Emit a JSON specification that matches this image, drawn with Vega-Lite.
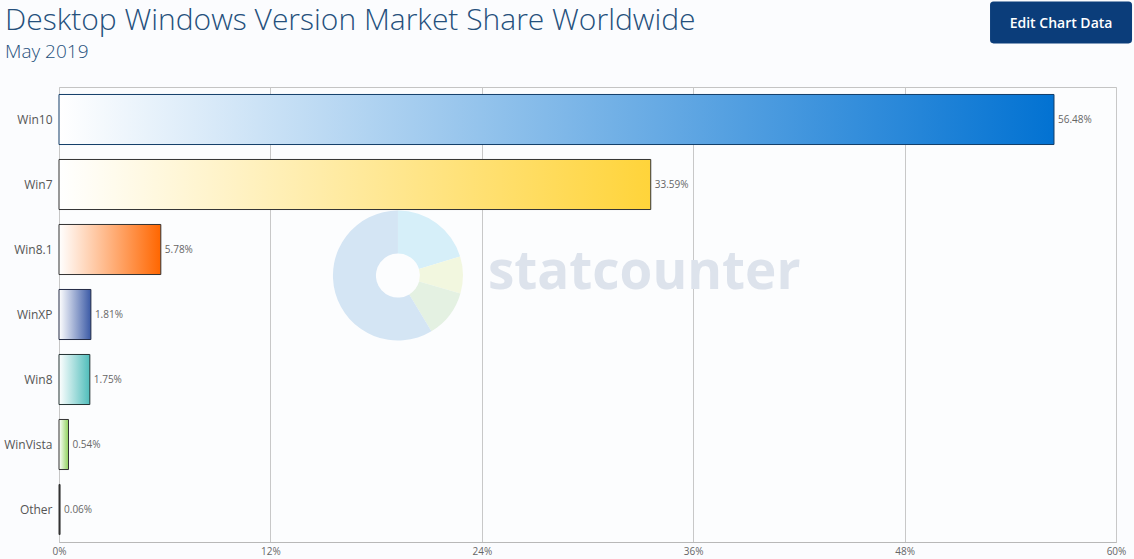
{
  "$schema": "https://vega.github.io/schema/vega-lite/v6.json",
  "autosize": "none",
  "width": 1057,
  "height": 455,
  "padding": {"left": 59, "top": 87, "right": 18, "bottom": 17},
  "background": "#fbfcfe",
  "title": {
    "text": "Desktop Windows Version Market Share Worldwide",
    "subtitle": "May 2019",
    "anchor": "start",
    "frame": "group",
    "dx": -54,
    "offset": -61,
    "font": "Open Sans",
    "fontSize": 30,
    "fontWeight": 300,
    "color": "#25507c",
    "subtitleFont": "Open Sans",
    "subtitleFontSize": 19,
    "subtitleFontWeight": 300,
    "subtitleColor": "#25507c",
    "subtitlePadding": 7
  },
  "config": {
    "view": {"stroke": "#c4c4c4", "fill": "#fcfdfe"},
    "font": "Open Sans"
  },
  "datasets": {
    "shares": [
      {"os": "Win10", "share": 0.5648},
      {"os": "Win7", "share": 0.3359},
      {"os": "Win8.1", "share": 0.0578},
      {"os": "WinXP", "share": 0.0181},
      {"os": "Win8", "share": 0.0175},
      {"os": "WinVista", "share": 0.0054},
      {"os": "Other", "share": 0.0006}
    ],
    "logo": [
      {"k": 1, "slice": "cyan", "deg": 73},
      {"k": 2, "slice": "yellow", "deg": 33},
      {"k": 3, "slice": "green", "deg": 43},
      {"k": 4, "slice": "blue", "deg": 211}
    ],
    "brand": [{"word": "statcounter"}],
    "button": [{"label": "Edit Chart Data"}]
  },
  "data": {"name": "shares"},
  "layer": [
    {
      "data": {"name": "brand"},
      "mark": {"type": "text", "align": "left", "baseline": "middle", "fontSize": 53, "fontWeight": "bold", "font": "Open Sans", "color": "#dde3ec"},
      "encoding": {
        "x": {"datum": 0.2435, "type": "quantitative"},
        "y": {"datum": "Win8.1", "type": "nominal", "bandPosition": 0.96},
        "text": {"field": "word", "type": "nominal"}
      }
    },
    {
      "data": {"name": "logo"},
      "mark": {"type": "arc", "radius": 65, "radius2": 22},
      "encoding": {
        "x": {"datum": 0.1924, "type": "quantitative"},
        "y": {"datum": "Win8.1", "type": "nominal", "bandPosition": 1.02},
        "theta": {"field": "deg", "type": "quantitative", "stack": true},
        "order": {"field": "k", "type": "quantitative"},
        "color": {"field": "slice", "type": "nominal", "legend": null, "scale": {"domain": ["cyan", "yellow", "green", "blue"], "range": ["#d6eff9", "#f2f7df", "#e4f1e2", "#d4e5f4"]}}
      }
    },
    {
      "data": {"name": "button"},
      "mark": {"type": "point", "filled": true, "opacity": 1, "color": "#0b3d7a", "size": 20164, "shape": "M-0.95,-0.296 L0.95,-0.296 Q1,-0.296 1,-0.246 L1,0.246 Q1,0.296 0.95,0.296 L-0.95,0.296 Q-1,0.296 -1,0.246 L-1,-0.246 Q-1,-0.296 -0.95,-0.296 Z"},
      "encoding": {
        "x": {"datum": 0.5688, "type": "quantitative"},
        "y": {"datum": "Win10", "type": "nominal", "bandPosition": -1.44}
      }
    },
    {
      "data": {"name": "button"},
      "mark": {"type": "text", "align": "center", "baseline": "middle", "dy": 2, "fontSize": 14, "fontWeight": 600, "font": "Open Sans", "color": "#ffffff"},
      "encoding": {
        "x": {"datum": 0.5688, "type": "quantitative"},
        "y": {"datum": "Win10", "type": "nominal", "bandPosition": -1.44},
        "text": {"field": "label", "type": "nominal"}
      }
    },
    {
      "encoding": {
        "y": {
          "field": "os",
          "type": "nominal",
          "sort": null,
          "scale": {"domain": ["Win10", "Win7", "Win8.1", "WinXP", "Win8", "WinVista", "Other"], "paddingInner": 0.23, "paddingOuter": 0.115},
          "axis": {"title": null, "ticks": false, "domain": false, "labelFontSize": 12, "labelColor": "#555555", "labelPadding": 7, "labelFont": "Open Sans"}
        },
        "x": {
          "field": "share",
          "type": "quantitative",
          "scale": {"domain": [0, 0.6], "nice": false},
          "axis": {"title": null, "values": [0, 0.12, 0.24, 0.36, 0.48, 0.6], "format": ".0%", "ticks": false, "grid": true, "gridColor": "#c8c8c8", "domainColor": "#b8b8b8", "labelFontSize": 10, "labelColor": "#666666", "labelPadding": 4, "labelFont": "Open Sans", "labelFlush": false}
        }
      },
      "layer": [
        {
          "transform": [{"filter": "datum.os === 'Win10'"}],
          "mark": {"type": "bar", "stroke": "#123d68", "strokeWidth": 1, "color": {"gradient": "linear", "x1": 0, "x2": 1, "y1": 0, "y2": 0, "stops": [{"offset": 0, "color": "#ffffff"}, {"offset": 1, "color": "#0272d2"}]}}
        },
        {
          "transform": [{"filter": "datum.os === 'Win7'"}],
          "mark": {"type": "bar", "stroke": "#333333", "strokeWidth": 1, "color": {"gradient": "linear", "x1": 0, "x2": 1, "y1": 0, "y2": 0, "stops": [{"offset": 0, "color": "#ffffff"}, {"offset": 1, "color": "#ffd43a"}]}}
        },
        {
          "transform": [{"filter": "datum.os === 'Win8.1'"}],
          "mark": {"type": "bar", "stroke": "#333333", "strokeWidth": 1, "color": {"gradient": "linear", "x1": 0, "x2": 1, "y1": 0, "y2": 0, "stops": [{"offset": 0, "color": "#ffffff"}, {"offset": 1, "color": "#ff6600"}]}}
        },
        {
          "transform": [{"filter": "datum.os === 'WinXP'"}],
          "mark": {"type": "bar", "stroke": "#222a44", "strokeWidth": 1, "color": {"gradient": "linear", "x1": 0, "x2": 1, "y1": 0, "y2": 0, "stops": [{"offset": 0, "color": "#ffffff"}, {"offset": 1, "color": "#3b5aa6"}]}}
        },
        {
          "transform": [{"filter": "datum.os === 'Win8'"}],
          "mark": {"type": "bar", "stroke": "#223333", "strokeWidth": 1, "color": {"gradient": "linear", "x1": 0, "x2": 1, "y1": 0, "y2": 0, "stops": [{"offset": 0, "color": "#ffffff"}, {"offset": 1, "color": "#4fbdbb"}]}}
        },
        {
          "transform": [{"filter": "datum.os === 'WinVista'"}],
          "mark": {"type": "bar", "stroke": "#333333", "strokeWidth": 1, "color": {"gradient": "linear", "x1": 0, "x2": 1, "y1": 0, "y2": 0, "stops": [{"offset": 0, "color": "#ffffff"}, {"offset": 1, "color": "#8ed15a"}]}}
        },
        {
          "transform": [{"filter": "datum.os === 'Other'"}],
          "mark": {"type": "bar", "stroke": "#333333", "strokeWidth": 1, "color": "#333333"}
        },
        {
          "mark": {"type": "text", "align": "left", "baseline": "middle", "dx": 4, "fontSize": 10, "color": "#666666", "font": "Open Sans"},
          "encoding": {"text": {"field": "share", "type": "quantitative", "format": ".2%"}}
        }
      ]
    }
  ]
}
